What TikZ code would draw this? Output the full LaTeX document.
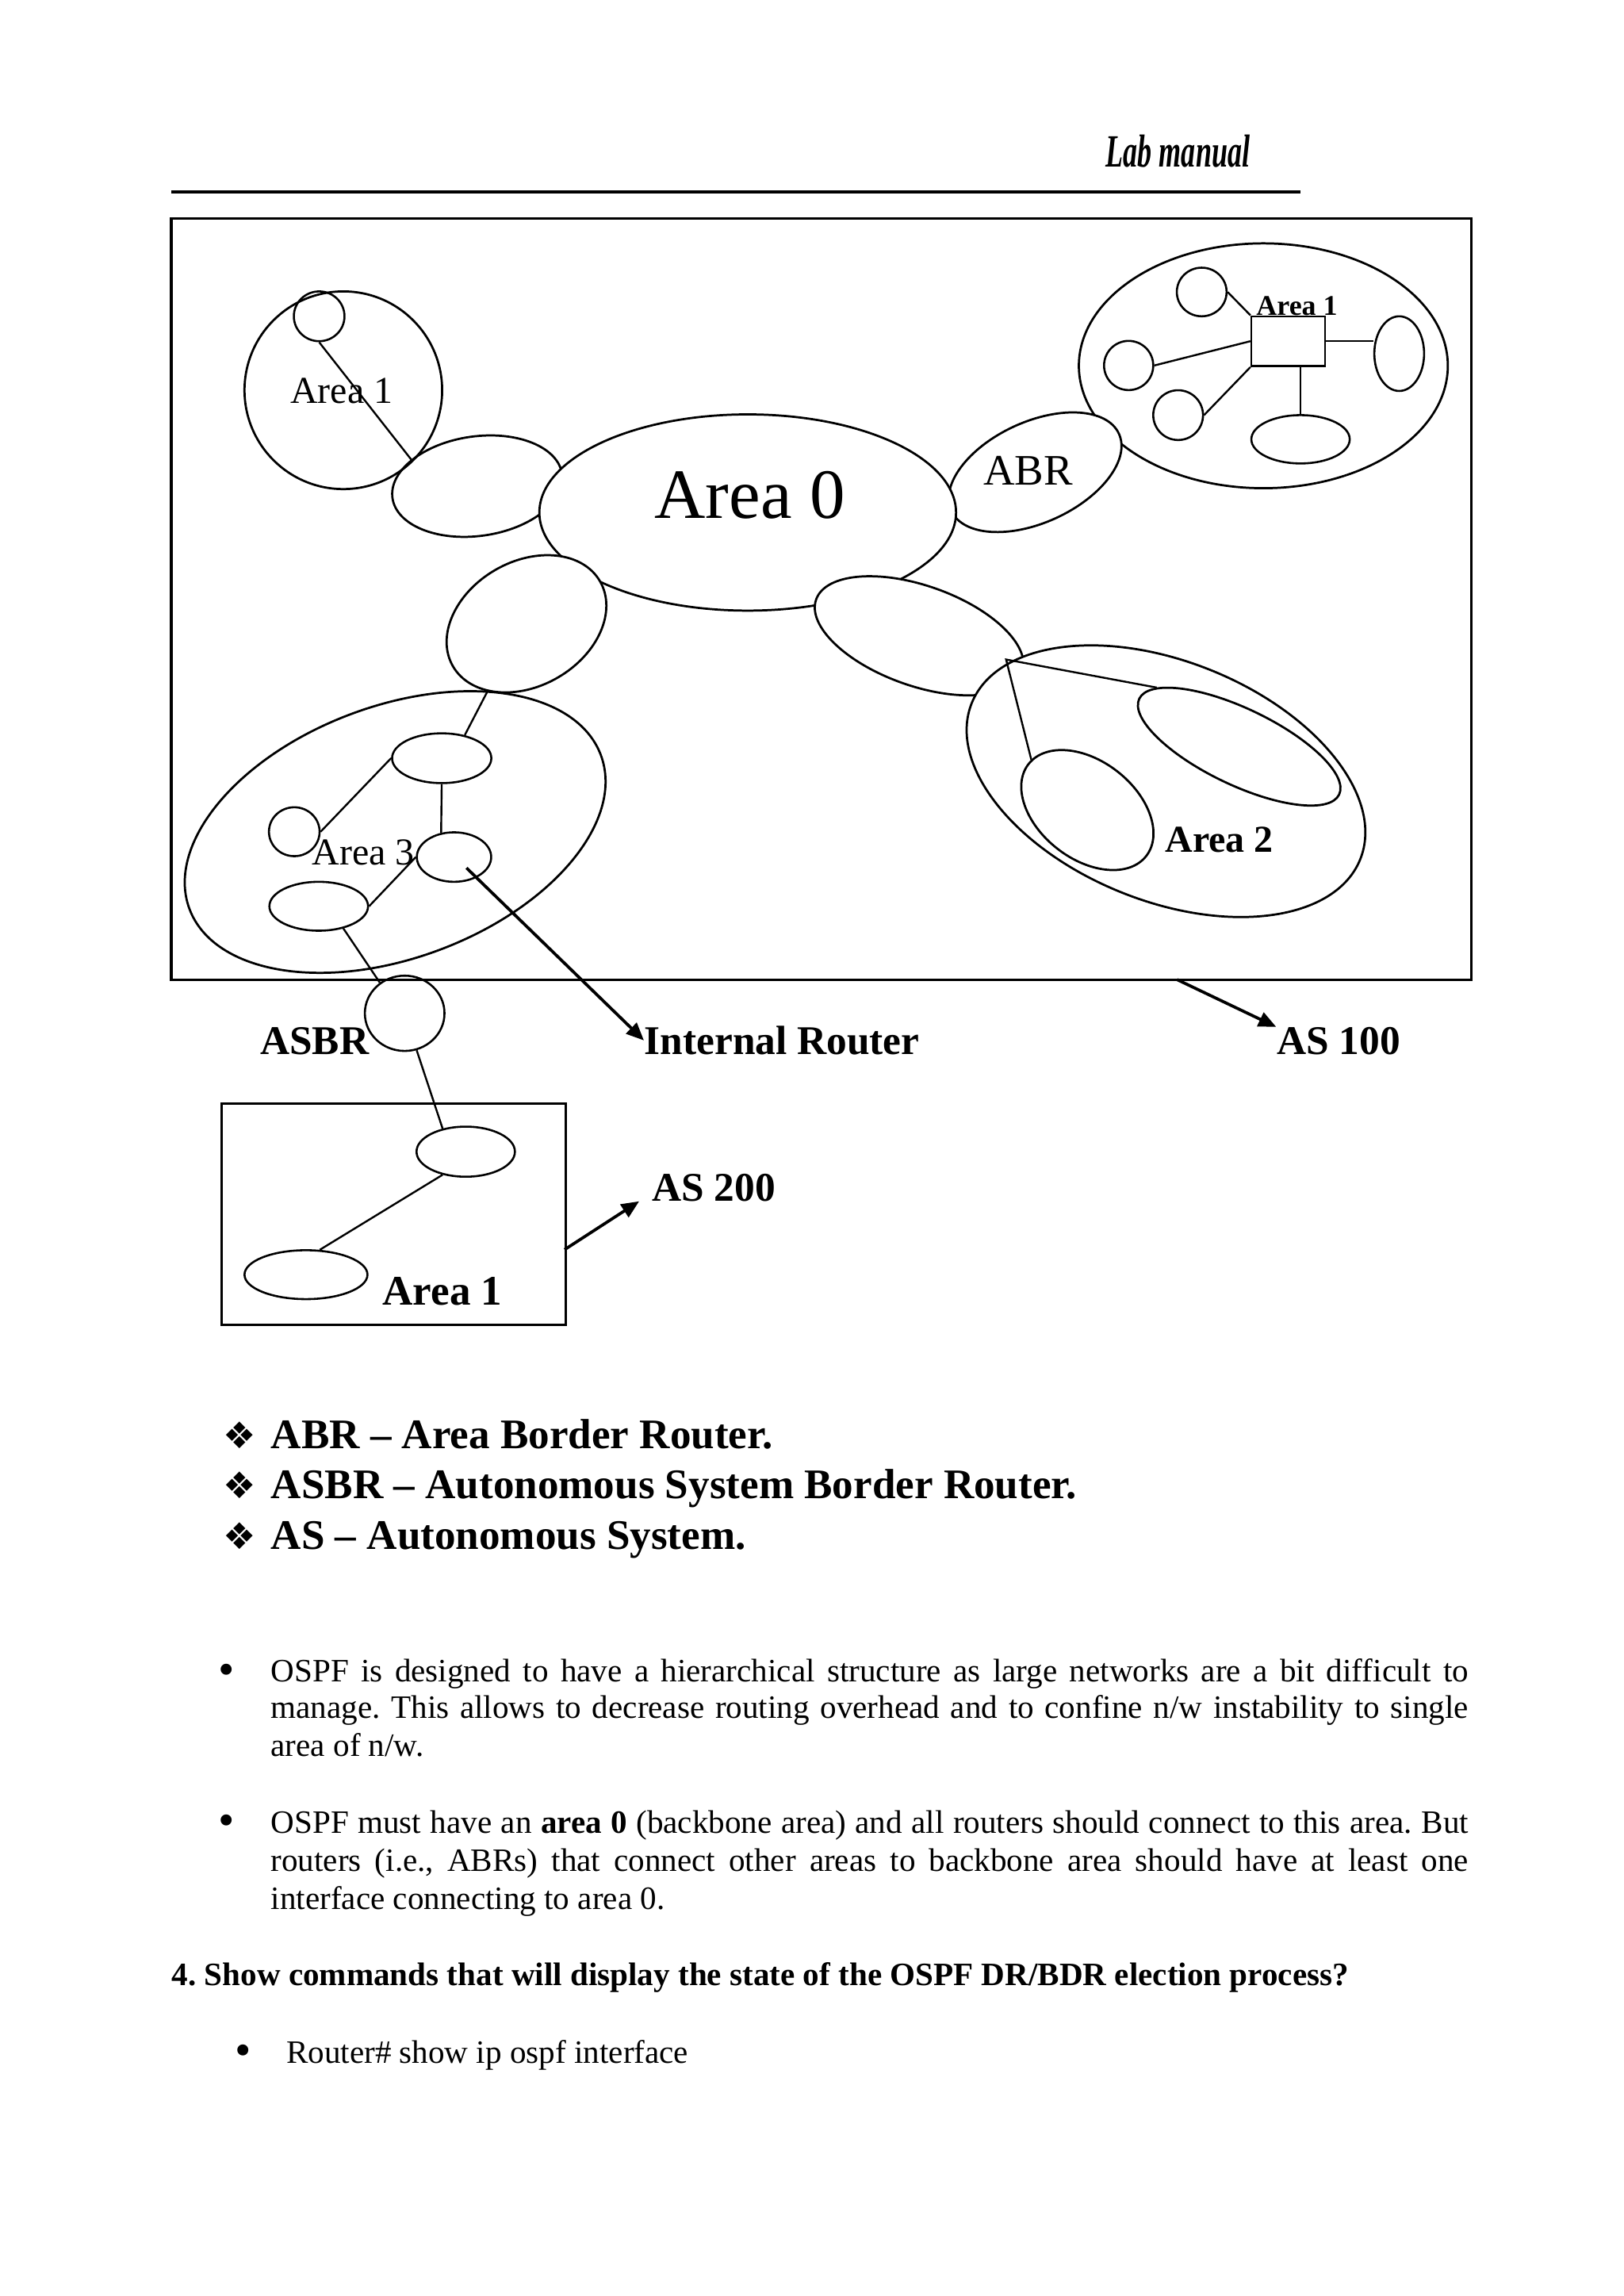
\documentclass[tikz,border=0pt]{standalone}
\usepackage{fontspec}
\setmainfont{Liberation Serif}
\newfontfamily\symfont{DejaVu Sans}
\usepackage{graphicx}
\usetikzlibrary{arrows.meta,shapes.geometric}
\frenchspacing
\tikzset{
  area/.style={draw,ellipse,line width=0.8pt,inner sep=0pt},
  wipe/.style={area,fill=white},
  rtr/.style={draw,ellipse,line width=0.75pt,inner sep=0pt},
  ax/.style 2 args={minimum width=#1*0.37872mm,minimum height=#2*0.37872mm},
  link/.style={line width=0.7pt},
  arr/.style={-{Triangle[length=6.5pt,width=5.5pt]},line width=1.1pt},
  lbl/.style={inner sep=0pt,anchor=base west},
  body/.style={lbl,font=\fontsize{12}{14}\selectfont},
  dot/.style={inner sep=0pt,anchor=base,font=\fontsize{17}{18}\selectfont},
  legend/.style={lbl,font=\fontsize{15.5}{18}\selectfont\bfseries},
}

\begin{document}
\begin{tikzpicture}[x=0.18936mm,y=-0.18936mm]
  \path[fill=white,use as bounding box] (0,0) rectangle (1109,1568);
  \node[lbl] (hdr) at (755,114) {\scalebox{0.62}[1]{\fontsize{17}{20}\selectfont\bfseries\itshape Lab manual}};
  \draw[line width=1.1pt] (117,131) -- (888,131);
  \draw[line width=0.9pt] (117,149) rectangle (1005,669);

  \node[area,ax={67.5}{67.5}] (a1) at (234.5,266.5) {};
  \node[rtr,ax={17.3}{17}] (s1) at (218,216) {};
  \node[area,ax={58.5}{34},rotate=8] (j1) at (326,332) {};

  \node[area,ax={126}{83.6}] (ta1) at (862.9,249.8) {};
  \node[draw,line width=0.75pt,inner sep=0pt,minimum width=50.3*0.18936mm,minimum height=34*0.18936mm] (sw) at (879.9,233) {};
  \node[rtr,ax={17}{16.6}] (c1) at (820.8,199.4) {};
  \node[rtr,ax={16.8}{16.8}] (c2) at (770.9,249.6) {};
  \node[rtr,ax={17}{17}] (c3) at (804.7,283.5) {};
  \node[rtr,ax={17}{25.5}] (c4) at (955.7,241.5) {};
  \node[rtr,ax={33.6}{16.5}] (c5) at (888.3,300) {};

  \node[wipe,ax={63}{34.4},rotate=24.7] (abr) at (707,322.5) {};
  \node[wipe,ax={142.3}{67}] (a0) at (510.7,350) {};
  \node[wipe,ax={58}{42.5},rotate=30] (j3) at (359.6,426) {};
  \node[wipe,ax={74.6}{34.2},rotate=-19.4] (j2) at (627.8,434.2) {};
  \node[wipe,ax={143}{81.8},rotate=-21.9] (a2) at (796.4,533.5) {};
  \node[area,ax={75.7}{26},rotate=-25.6] (e2a) at (846.4,509.9) {};
  \node[area,ax={51}{33.4},rotate=-38] (e2b) at (742.7,553.2) {};
  \coordinate (v2) at (687.2,450.4);

  \node[area,ax={150}{86},rotate=20.5] (a3) at (269.9,568.2) {};
  \node[rtr,ax={33.9}{17}] (t3) at (301.7,517.8) {};
  \node[rtr,ax={17.3}{16.7}] (c31) at (201,568) {};
  \node[rtr,ax={25.4}{16.9}] (r3) at (310.1,585.3) {};
  \node[rtr,ax={33.7}{16.7}] (l3) at (217.7,618.9) {};
  \node[rtr,ax={27.2}{25.7}] (asbr) at (276.4,692) {};

  \node[draw,line width=0.8pt,inner sep=0pt,anchor=north west,minimum width=234.8*0.18936mm,minimum height=151.2*0.18936mm] (box) at (150.8,752.8) {};
  \node[rtr,ax={33.6}{17.1}] (b1) at (318.1,786.5) {};
  \node[rtr,ax={42}{16.7}] (b2) at (209,870.5) {};

  \node[lbl,font=\fontsize{14}{16}\selectfont] (a1t) at (198,275.3) {Area 1};
  \node[lbl,font=\fontsize{10.5}{12}\selectfont\bfseries] (ta1t) at (857.8,215.4) {Area 1};
  \node[lbl,font=\fontsize{26}{30}\selectfont] (a0t) at (446.8,354.1) {Area 0};
  \node[lbl,font=\fontsize{16}{18}\selectfont] (abrt) at (671.3,331.4) {ABR};
  \node[lbl,font=\fontsize{14}{16}\selectfont] (a3t) at (212.7,590.8) {Area 3};
  \node[lbl,font=\fontsize{14}{16}\selectfont\bfseries] (a2t) at (795.6,581.7) {Area 2};
  \node[lbl,font=\fontsize{15}{18}\selectfont\bfseries] (asbrt) at (177.4,720) {ASBR};
  \node[lbl,font=\fontsize{15}{18}\selectfont\bfseries] (ir) at (439.8,720) {Internal Router};
  \node[lbl,font=\fontsize{15}{18}\selectfont\bfseries] (as100) at (871.7,720.2) {AS 100};
  \node[lbl,font=\fontsize{15}{18}\selectfont\bfseries] (as200) at (445,820.4) {AS 200};
  \node[lbl,font=\fontsize{15.5}{18}\selectfont\bfseries] (boxt) at (261,891) {Area 1};

  \draw[link] (s1.south) -- (j1.150);
  \draw[link] (c1.east) -- (sw.north west);
  \draw[link] (c2.east) -- (sw.west);
  \draw[link] (c3.east) -- (sw.south west);
  \draw[link] (sw.east) -- (sw.east -| c4.west);
  \draw[link] (c5.north) -- (c5.north |- sw.south);
  \draw[link] (e2a.170) -- (v2) -- (e2b.176);
  \draw[link] (t3.45) -- (j3.-150);
  \draw[link] (t3.west) -- (c31.east);
  \draw[link] (t3.south) -- (r3.118);
  \draw[link] (r3.west) -- (l3.east);
  \draw[link] (l3.-42) -- (asbr.129);
  \draw[link] (asbr.-72) -- (b1.135);
  \draw[link] (b1.-135) -- (b2.61);
  \coordinate (irtail) at (318.6,592.7);
  \draw[arr] (irtail) -- (ir.west);
  \coordinate (as1tail) at (804,669);
  \draw[arr] (as1tail) -- (as100.north west);
  \coordinate (as2tail) at (385.6,853.4);
  \draw[arr] (as2tail) -- ([xshift=-1.6mm]as200.base west);

  \node[lbl,font=\symfont\fontsize{13.5}{15}\selectfont] (bul1) at (152,989.1) {❖};
  \node[lbl,font=\symfont\fontsize{13.5}{15}\selectfont] (bul2) at (152,1023.5) {❖};
  \node[lbl,font=\symfont\fontsize{13.5}{15}\selectfont] (bul3) at (152,1058.1) {❖};
  \node[legend] (leg1) at (184.7,989.1) {ABR – Area Border Router.};
  \node[legend] (leg2) at (184.7,1023.5) {ASBR – Autonomous System Border Router.};
  \node[legend] (leg3) at (184.7,1058.1) {AS – Autonomous System.};

  \node[dot] (dot1) at (155,1150.5) {•};
  \node[body] (p1a) at (184.7,1148.6) {\makebox[440.7pt][s]{OSPF is designed to have a hierarchical structure as large networks are a bit difficult to}};
  \node[body] (p1b) at (184.7,1173.6) {\makebox[440.7pt][s]{manage. This allows to decrease routing overhead and to confine n/w instability to single}};
  \node[body] (p1c) at (184.7,1199.6) {area of n/w.};
  \node[dot] (dot2) at (155,1253.6) {•};
  \node[body] (p2a) at (184.7,1251.7) {\makebox[440.7pt][s]{OSPF must have an \textbf{area 0} (backbone area) and all routers should connect to this area. But}};
  \node[body] (p2b) at (184.7,1277.8) {\makebox[440.7pt][s]{routers (i.e., ABRs) that connect other areas to backbone area should have at least one}};
  \node[body] (p2c) at (184.7,1303.9) {interface connecting to area 0.};
  \node[body,font=\fontsize{12}{14}\selectfont\bfseries] (q4) at (117,1355.8) {4. Show commands that will display the state of the OSPF DR/BDR election process?};
  \node[dot] (dot3) at (166,1410.9) {•};
  \node[body] (cmd) at (195.2,1409) {Router\# show ip ospf interface};
\end{tikzpicture}
\end{document}
